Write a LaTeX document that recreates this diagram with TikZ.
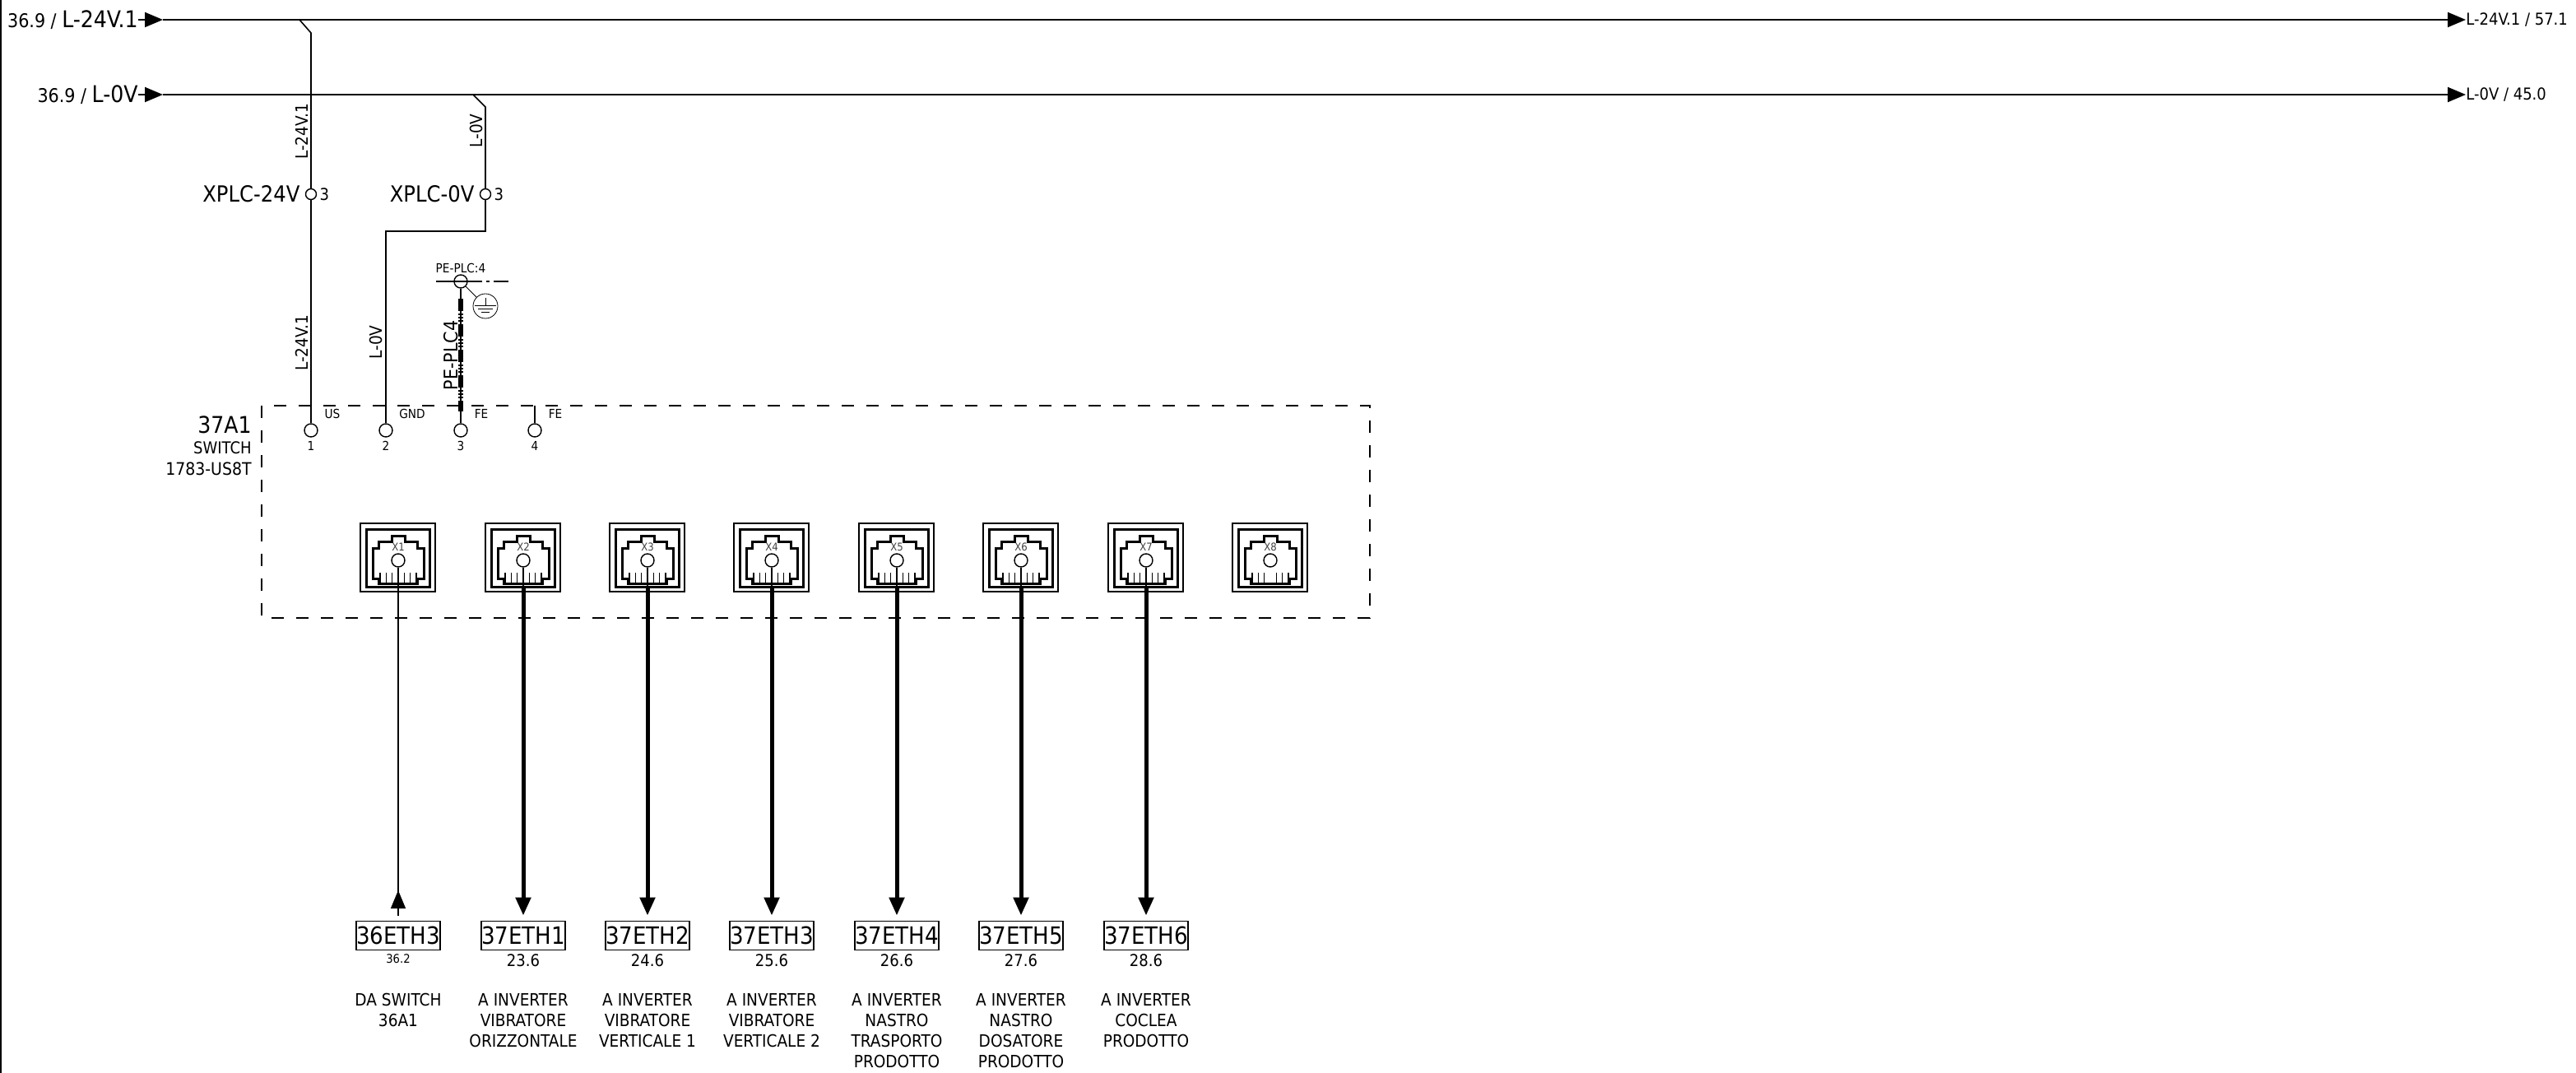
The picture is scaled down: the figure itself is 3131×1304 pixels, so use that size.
\documentclass[tikz,border=0pt]{standalone}
\usepackage{fontspec}
\setmainfont{DejaVu Sans Condensed}
\usetikzlibrary{arrows.meta}
\newcommand{\fsz}[1]{\fontsize{#1}{#1}\selectfont}
\tikzset{
	bus/.style={line width=1pt},
	wire/.style={line width=.8pt},
	thinwire/.style={line width=.6pt},
	thickwire/.style={line width=2.5pt},
	pewire/.style={line width=3.2pt,dash pattern=on 7.5pt off 1.6pt on .8pt off 1.2pt on .8pt off 1.2pt on .8pt off 1.6pt},
	head/.style={-{Triangle[length=11pt,width=9pt]}},
	pinpt/.style={circle,draw,line width=.7pt,minimum size=8pt},
	termpt/.style={circle,draw,line width=.7pt,minimum size=6.5pt},
	buslabel/.style={font=\fsz{10},text height=9pt,text depth=2pt},
	inlabel/.style={font=\fsz{11.5},text height=12pt,text depth=2pt},
	rotlabel/.style={font=\fsz{10.3},rotate=90},
	small/.style={font=\fsz{7.6}},
	tag/.style={draw,line width=.9pt,minimum width=51pt,minimum height=17.5pt,font=\fsz{14.5}},
	refnum/.style={font=\fsz{10},label distance=2pt},
	desc/.style={font=\fontsize{10.3}{12.5}\selectfont,align=center,anchor=north},
	ethjack/.pic={
		\draw[line width=.6pt] (-46,-42) rectangle (45,41);
		\draw[line width=1.5pt] (-38.5,-35) rectangle (38,35);
		\draw[line width=1.5pt] (-31,-12) -- (-23.5,-12) -- (-23.5,-20) -- (-8,-20) -- (-8,-27) -- (8,-27) -- (8,-20) -- (23.5,-20) -- (23.5,-12) -- (31,-12) -- (31,25) -- (23.5,25) -- (23.5,31) -- (-23.5,31) -- (-23.5,25) -- (-31,25) -- cycle;
		\draw[line width=.6pt] (-22,18) -- (-22,31) (-14.7,18) -- (-14.7,31) (-7.3,18) -- (-7.3,31) (7.3,18) -- (7.3,31) (14.7,18) -- (14.7,31) (22,18) -- (22,31);
		\node[font=\fsz{6.5},text=black!75] at (0,-13) {#1};
		\node[pinpt] (-port) at (0,3) {};
		\coordinate (-out) at (0,35);
	}
}
\begin{document}
\begin{tikzpicture}[x=.5pt,y=-.5pt,every node/.style={inner sep=0pt},every label/.style={inner sep=0pt}]

	\useasboundingbox (0,0) rectangle (3131,1304);

	%frame
	\coordinate (f1) at (1,0);
	\coordinate (f2) at (1,1304);
	\draw[line width=1pt] (f1) -- (f2);

	%bus lines
	\node[inlabel,anchor=east] (b1l) at (168,24) {36.9 / {\fsz{14}L-24V.1}};
	\node[inlabel,anchor=east] (b2l) at (168,115) {36.9 / {\fsz{14}L-0V}};
	\node[buslabel,anchor=west] (b1r) at (2997,24) {L-24V.1 / 57.1};
	\node[buslabel,anchor=west] (b2r) at (2997,115) {L-0V / 45.0};
	\coordinate (b1a) at (198,24);
	\coordinate (b2a) at (198,115);
	\draw[bus,head] (b1l.east) -- (b1a);
	\draw[bus,head] (b2l.east) -- (b2a);
	\draw[bus,head] (b1a) -- (b1r.west);
	\draw[bus,head] (b2a) -- (b2r.west);

	%terminals
	\node[termpt,label={[font=\fsz{13.5},label distance=3pt]left:{XPLC-24V}},label={[label distance=1.5pt,font=\fsz{10}]right:{3}}] (x1) at (378,236) {};
	\node[termpt,label={[font=\fsz{13.5},label distance=3pt]left:{XPLC-0V}},label={[label distance=1.5pt,font=\fsz{10}]right:{3}}] (x2) at (590,236) {};

	%pins of the switch
	\node[pinpt,label={[small,label distance=2pt]below:{1}}] (p1) at (378,523) {};
	\node[pinpt,label={[small,label distance=2pt]below:{2}}] (p2) at (469,523) {};
	\node[pinpt,label={[small,label distance=2pt]below:{3}}] (p3) at (560,523) {};
	\node[pinpt,label={[small,label distance=2pt]below:{4}}] (p4) at (650,523) {};
	\node[small] (n1) at (404,503) {US};
	\node[small] (n2) at (501,503) {GND};
	\node[small] (n3) at (585,503) {FE};
	\node[small] (n4) at (675,503) {FE};

	%switch box
	\coordinate (s1) at (318,493);
	\coordinate (s2) at (1665,751);
	\draw[line width=.6pt,dash pattern=on 7.5pt off 7.5pt] (s1) rectangle (s2);
	\node[anchor=east,font=\fsz{14}] (a1) at (306,516) {37A1};
	\node[anchor=east,font=\fsz{10}] (a2) at (306,544) {SWITCH};
	\node[anchor=east,font=\fsz{10.5}] (a3) at (306,570) {1783-US8T};

	%branches from the bus
	\coordinate (c1) at (364,24);
	\coordinate (c2) at (378,40);
	\coordinate (c3) at (575,115);
	\coordinate (c4) at (590,130);
	\coordinate (c5) at (590,281);
	\coordinate (c6) at (469,281);
	\coordinate (c7) at (650,493);
	\draw[wire] (c1) -- (c2) -- (x1);
	\draw[wire] (x1) -- (p1);
	\draw[wire] (c3) -- (c4) -- (x2);
	\draw[wire] (x2) -- (c5) -- (c6) -- (p2);
	\draw[wire] (c7) -- (p4);
	\node[rotlabel] (l1) at (367,160) {L-24V.1};
	\node[rotlabel] (l2) at (367,417) {L-24V.1};
	\node[rotlabel] (l3) at (579,159) {L-0V};
	\node[rotlabel] (l4) at (457,416) {L-0V};

	%earth
	\node[circle,draw,line width=.7pt,minimum size=8pt] (pe) at (560,342) {};
	\node[small] (pet) at (560,326) {PE-PLC:4};
	\coordinate (e1) at (530,342);
	\coordinate (e2) at (618,342);
	\draw[line width=.7pt,dash pattern=on 28pt off 2.5pt on 2pt off 2.5pt on 10pt off 0pt] (e1) -- (e2);
	\node[circle,draw,line width=.4pt,minimum size=15pt] (gnd) at (590,372) {};
	\draw[line width=.4pt] (pe) -- (gnd);
	\coordinate (g1) at (590,362);
	\coordinate (g2) at (590,371);
	\coordinate (g3) at (577,371);
	\coordinate (g4) at (603,371);
	\coordinate (g5) at (581,375);
	\coordinate (g6) at (599,375);
	\coordinate (g7) at (585,379);
	\coordinate (g8) at (595,379);
	\draw[line width=.4pt] (g1) -- (g2) (g3) -- (g4) (g5) -- (g6) (g7) -- (g8);
	\coordinate (q1) at (560,363);
	\coordinate (q2) at (560,500);
	\draw[wire] (pe) -- (p3);
	\draw[pewire] (q1) -- (q2);
	\node[rotlabel,font=\fsz{11.5}] (l5) at (548,432) {PE-PLC4};

	%ethernet ports
	\pic (j1) at (484,678) {ethjack=X1};
	\pic (j2) at (636,678) {ethjack=X2};
	\pic (j3) at (787,678) {ethjack=X3};
	\pic (j4) at (938,678) {ethjack=X4};
	\pic (j5) at (1090,678) {ethjack=X5};
	\pic (j6) at (1241,678) {ethjack=X6};
	\pic (j7) at (1393,678) {ethjack=X7};
	\pic (j8) at (1544,678) {ethjack=X8};

	%tags
	\node[tag,label={[font=\fsz{7.3},label distance=2pt]below:{36.2}}] (t1) at (484,1137) {36ETH3};
	\node[tag,label={[refnum]below:{23.6}}] (t2) at (636,1137) {37ETH1};
	\node[tag,label={[refnum]below:{24.6}}] (t3) at (787,1137) {37ETH2};
	\node[tag,label={[refnum]below:{25.6}}] (t4) at (938,1137) {37ETH3};
	\node[tag,label={[refnum]below:{26.6}}] (t5) at (1090,1137) {37ETH4};
	\node[tag,label={[refnum]below:{27.6}}] (t6) at (1241,1137) {37ETH5};
	\node[tag,label={[refnum]below:{28.6}}] (t7) at (1393,1137) {37ETH6};

	%descriptions
	\node[desc] (d1) at (484,1207) {DA SWITCH\\36A1};
	\node[desc] (d2) at (636,1207) {A INVERTER\\VIBRATORE\\ORIZZONTALE};
	\node[desc] (d3) at (787,1207) {A INVERTER\\VIBRATORE\\VERTICALE 1};
	\node[desc] (d4) at (938,1207) {A INVERTER\\VIBRATORE\\VERTICALE 2};
	\node[desc] (d5) at (1090,1207) {A INVERTER\\NASTRO\\TRASPORTO\\PRODOTTO};
	\node[desc] (d6) at (1241,1207) {A INVERTER\\NASTRO\\DOSATORE\\PRODOTTO};
	\node[desc] (d7) at (1393,1207) {A INVERTER\\COCLEA\\PRODOTTO};

	%cables
	\coordinate (u1) at (484,1082);
	\draw[thinwire,shorten >=3pt] (j1-port) -- (t1);
	\draw[thinwire,head,shorten <=3pt] (t1) -- (u1);
	\draw[thinwire] (j2-port) -- (j2-out);
	\draw[thinwire] (j3-port) -- (j3-out);
	\draw[thinwire] (j4-port) -- (j4-out);
	\draw[thinwire] (j5-port) -- (j5-out);
	\draw[thinwire] (j6-port) -- (j6-out);
	\draw[thinwire] (j7-port) -- (j7-out);
	\draw[thickwire,head,shorten >=3pt] (j2-out) -- (t2);
	\draw[thickwire,head,shorten >=3pt] (j3-out) -- (t3);
	\draw[thickwire,head,shorten >=3pt] (j4-out) -- (t4);
	\draw[thickwire,head,shorten >=3pt] (j5-out) -- (t5);
	\draw[thickwire,head,shorten >=3pt] (j6-out) -- (t6);
	\draw[thickwire,head,shorten >=3pt] (j7-out) -- (t7);

\end{tikzpicture}
\end{document}
